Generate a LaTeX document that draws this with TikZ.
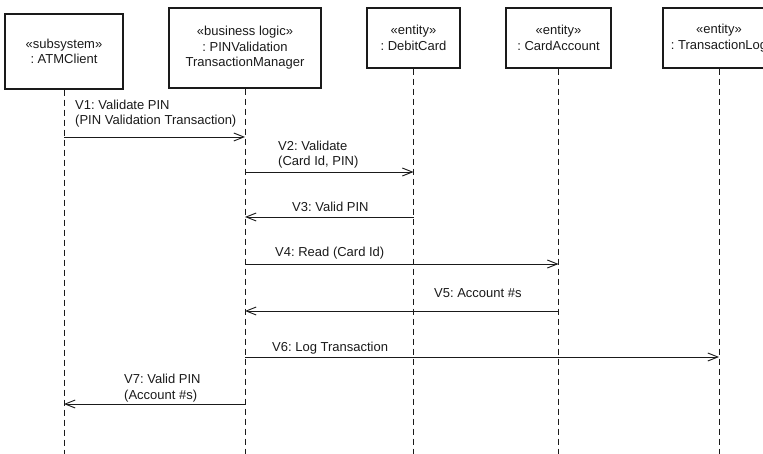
\documentclass[tikz,border=0pt]{standalone}
\usepackage{fontspec}
\setmainfont{Liberation Sans}
\usetikzlibrary{arrows.meta}
\definecolor{Ink}{HTML}{1A1A1A}
\frenchspacing
\begin{document}
\begin{tikzpicture}[x=1pt, y=-1pt,
  font=\fontsize{13}{15.5}\selectfont, text=Ink,
  obj/.style={draw=Ink, line width=1.1pt, align=center, inner sep=0pt},
  life/.style={draw=Ink, dash pattern=on 6pt off 4pt, line width=0.8pt},
  msg/.style={-{Straight Barb[length=10pt,width=8pt]}, draw=Ink, line width=0.9pt},
  lbl/.style={anchor=base west, align=left, inner sep=0pt}
]
\useasboundingbox (0,0) rectangle (763,454);
\clip (0,0) rectangle (763,454);
% objects
\node[obj, minimum width=118pt, minimum height=75pt] (atm) at (64,51.5) {«subsystem»\\: ATMClient};
\node[obj, minimum width=152pt, minimum height=80pt] (mgr) at (245,48) {«business logic»\\: PINValidation\\TransactionManager};
\node[obj, minimum width=93pt, minimum height=60pt] (card) at (413.5,38) {«entity»\\: DebitCard};
\node[obj, minimum width=105pt, minimum height=60pt] (acct) at (558.5,38) {«entity»\\: CardAccount};
\node[obj, minimum width=112pt, minimum height=60pt] (log) at (719,38) {«entity»\\: TransactionLog};
% lifelines
\coordinate (bot) at (0,456);
\foreach \o in {atm,mgr,card,acct,log}
  \draw[life] (\o.south) -- (\o |- bot);
% message rows
\coordinate (r1) at (0,137);
\coordinate (r2) at (0,172);
\coordinate (r3) at (0,217);
\coordinate (r4) at (0,264);
\coordinate (r5) at (0,311);
\coordinate (r6) at (0,357);
\coordinate (r7) at (0,404);
\draw[msg] (atm |- r1) -- (mgr |- r1);
\draw[msg] (mgr |- r2) -- (card |- r2);
\draw[msg] (card |- r3) -- (mgr |- r3);
\draw[msg] (mgr |- r4) -- (acct |- r4);
\draw[msg] (acct |- r5) -- (mgr |- r5);
\draw[msg] (mgr |- r6) -- (log |- r6);
\draw[msg] (mgr |- r7) -- (atm |- r7);
% labels (base = last line)
\node[lbl] (v1) at (75,125) {V1: Validate PIN\\(PIN Validation Transaction)};
\node[lbl] (v2) at (278,166) {V2: Validate\\(Card Id, PIN)};
\node[lbl] (v3) at (292,212) {V3: Valid PIN};
\node[lbl] (v4) at (275,257) {V4: Read (Card Id)};
\node[lbl] (v5) at (434,298) {V5: Account \#s};
\node[lbl] (v6) at (272,351) {V6: Log Transaction};
\node[lbl] (v7) at (124,399) {V7: Valid PIN\\(Account \#s)};
\end{tikzpicture}
\end{document}
